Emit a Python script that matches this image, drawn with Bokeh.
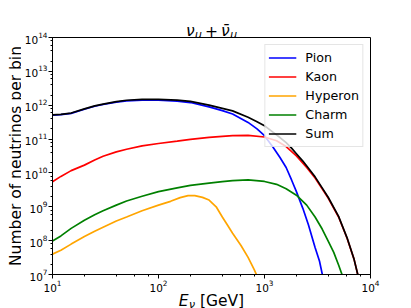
import numpy as np
from bokeh.plotting import figure
from bokeh.models import LogTicker, Range1d
from bokeh.core.properties import value
from bokeh.layouts import column, row
from bokeh.embed import file_html
from bokeh.resources import INLINE

# ---- data ----
pion_E = [10, 12, 15, 20, 25, 30, 40, 50, 70, 100, 150, 200, 300, 400, 500, 700, 850,
          1000, 1200, 1400, 1600, 1800, 2000, 2300, 2600, 3000, 3300, 3600]
pion_N = [5.1e11, 5.25e11, 5.75e11, 7.6e11, 9.3e11, 1.05e12, 1.23e12, 1.35e12, 1.41e12,
          1.41e12, 1.32e12, 1.20e12, 8.9e11, 6.9e11, 5.5e11, 3.1e11, 2.0e11,
          1.26e11, 5.8e10, 2.85e10, 1.45e10, 6.2e9, 2.8e9, 9.0e8, 2.9e8, 6.3e7, 2.5e7, 7.0e6]

kaon_E = [10, 12, 15, 20, 25, 30, 40, 50, 70, 100, 150, 200, 300, 400, 500, 700,
          1000, 1300, 1600, 2000, 2500, 3000, 3500, 4000, 5000, 6000, 7000, 8000]
kaon_N = [5.5e9, 7.9e9, 1.17e10, 1.7e10, 2.4e10, 3.1e10, 4.2e10, 5.0e10, 6.3e10, 7.4e10,
          8.7e10, 9.8e10, 1.12e11, 1.2e11, 1.26e11, 1.29e11,
          1.15e11, 8.9e10, 6.0e10, 3.2e10, 1.45e10, 7.1e9, 3.4e9, 1.78e9, 5.0e8, 1.2e8, 2.8e7, 5.0e6]

hyperon_E = [10, 12, 15, 20, 25, 30, 40, 50, 70, 100, 130, 160, 190, 220, 260, 300,
             350, 400, 450, 500, 600, 700, 800, 900]
hyperon_N = [4.0e7, 5.2e7, 7.9e7, 1.32e8, 1.9e8, 2.5e8, 3.8e8, 5.0e8, 7.6e8, 1.12e9,
             1.45e9, 1.86e9, 2.14e9, 2.14e9, 1.9e9, 1.58e9,
             1.0e9, 5.0e8, 2.8e8, 1.66e8, 7.2e7, 3.2e7, 1.4e7, 6.0e6]

charm_E = [10, 12, 15, 20, 25, 30, 40, 50, 70, 100, 150, 200, 300, 400, 500, 700,
           1000, 1300, 1600, 2000, 2500, 3000, 3500, 4000, 4500, 5000, 5500, 6000]
charm_N = [9.8e7, 1.38e8, 2.3e8, 4.0e8, 5.8e8, 7.6e8, 1.12e9, 1.48e9, 2.04e9, 2.8e9,
           3.6e9, 4.3e9, 5.0e9, 5.5e9, 5.9e9, 6.2e9,
           5.6e9, 4.6e9, 3.4e9, 2.2e9, 1.12e9, 5.0e8, 2.2e8, 9.5e7, 4.5e7, 1.9e7, 8.3e6, 3.2e6]

sum_E = [10, 12, 15, 20, 25, 30, 40, 50, 70, 100, 150, 200, 300, 400, 500, 700, 850,
         1000, 1200, 1400, 1600, 1800, 2000, 2300, 2600, 3000, 3500, 4000, 5000, 6000, 7000, 8000]
sum_N = [5.2e11, 5.33e11, 5.87e11, 7.8e11, 9.55e11, 1.08e12, 1.27e12, 1.40e12, 1.48e12,
         1.49e12, 1.41e12, 1.30e12, 1.01e12, 8.1e11, 6.8e11, 4.4e11, 3.25e11,
         2.47e11, 1.61e11, 1.11e11, 7.8e10, 5.4e10, 3.7e10, 2.24e10, 1.38e10, 7.66e9,
         3.62e9, 1.88e9, 5.2e8, 1.23e8, 2.8e7, 5.0e6]

series = [
    ("Pion", pion_E, pion_N, "blue"),
    ("Kaon", kaon_E, kaon_N, "red"),
    ("Hyperon", hyperon_E, hyperon_N, "orange"),
    ("Charm", charm_E, charm_N, "green"),
    ("Sum", sum_E, sum_N, "black"),
]

FONT = "DejaVu Sans"
TOTAL_W, TOTAL_H = 411, 308
YS = 21                      # strip holding the y label
CW = TOTAL_W - YS
BL, BR, BT, BB = 30, 41, 8, 20
FRAME_H = 237
TH, XH = 37, 22
HP = BT + FRAME_H + BB
OT, OB = 8, 8                # vertical overlaps between the stacked strips

xr = Range1d(10, 1e4)

p = figure(width=CW, height=HP, x_axis_type="log", y_axis_type="log",
           x_range=xr, y_range=(1e7, 1e14),
           output_backend="svg", toolbar_location=None,
           min_border_left=BL, min_border_right=BR, min_border_top=BT, min_border_bottom=BB)
p.xgrid.visible = False
p.ygrid.visible = False
p.outline_line_color = "black"
p.outline_line_alpha = 1.0
p.outline_line_width = 1
p.background_fill_color = "white"
p.border_fill_alpha = 0.0
p.margin = (-OT, 0, 0, 0)

p.xaxis.ticker = LogTicker(desired_num_ticks=4)
p.yaxis.ticker = LogTicker(desired_num_ticks=8)
for ax in (p.xaxis[0], p.yaxis[0]):
    ax.major_label_text_font = FONT
    ax.major_label_text_font_size = "10.5px"
    ax.major_label_text_color = "black"
    ax.major_label_standoff = 1
    ax.major_tick_out = 4
    ax.major_tick_in = 0
    ax.minor_tick_out = 2
    ax.minor_tick_in = 0
    ax.axis_line_color = "black"
    ax.major_tick_line_color = "black"
    ax.minor_tick_line_color = "black"

for name, xs, ys, color in series:
    p.line(np.array(xs, dtype=float), np.array(ys, dtype=float),
           line_color=color, line_width=1.7, legend_label=name)

lg = p.legend[0]
lg.location = "top_right"
lg.margin = 7
lg.padding = 3
lg.spacing = 0
lg.label_height = 19
lg.glyph_height = 19
lg.glyph_width = 28
lg.label_standoff = 9
lg.label_text_font = FONT
lg.label_text_font_size = "12.7px"
lg.label_text_color = "black"
lg.border_line_color = "#cccccc"
lg.border_line_width = 1
lg.background_fill_color = "white"
lg.background_fill_alpha = 0.8


def strip(w, h, log_x=False, **kw):
    f = figure(width=w, height=h,
               x_axis_type="log" if log_x else "linear",
               x_range=xr if log_x else (0, w), y_range=(0, h),
               x_axis_location=None, y_axis_location=None,
               output_backend="svg", toolbar_location=None, **kw)
    f.xgrid.visible = False
    f.ygrid.visible = False
    f.outline_line_color = None
    f.background_fill_alpha = 0.0
    f.border_fill_alpha = 0.0
    return f


def put(f, text, x, y, size, style="normal", dx=0.0, angle=0.0, align="left"):
    f.text(x=[x], y=[y], text=[text], x_offset=dx, angle=angle,
           text_font=value(FONT), text_font_size=value(f"{size:.2f}px"),
           text_font_style=style, text_color="black",
           text_baseline="alphabetic", text_align=align)


F = 15.5
S = 10.85
XC = 10 ** 2.5      # horizontal centre of the log frame

# title: nu_mu + nubar_mu
tf = strip(CW, TH, log_x=True, min_border_left=BL, min_border_right=BR,
           min_border_top=0, min_border_bottom=0)
tb = TH - 30.5
put(tf, "ν", XC, tb, F, "italic", dx=-25.6)
put(tf, "μ", XC, tb - 3.5, S, "italic", dx=-16.4)
put(tf, "+", XC, tb, F, "normal", dx=-6.5)
put(tf, "ν̄", XC, tb, F, "italic", dx=9.5)
put(tf, "μ", XC, tb - 3.5, S, "italic", dx=18.7)

# x label: E_nu [GeV]
xf = strip(CW, XH, log_x=True, min_border_left=BL, min_border_right=BR,
           min_border_top=0, min_border_bottom=0)
xf.margin = (-OB, 0, 0, 0)
xb = 7.3
put(xf, "E", XC, xb, F, "italic", dx=-32.7)
put(xf, "ν", XC, xb - 3.4, S, "italic", dx=-22.6)
put(xf, "[GeV]", XC, xb, F, "normal", dx=-11.6)

# y label strip
yf = strip(YS, TOTAL_H, min_border=0)
frame_mid_from_bottom = TOTAL_H - (TH + FRAME_H / 2.0)
put(yf, "Number of neutrinos per bin", 15.6, frame_mid_from_bottom, F, "normal",
    angle=np.pi / 2, align="center")

col = column(tf, p, xf, spacing=0)
layout = row(yf, col, spacing=0)
open("out.html", "w").write(file_html(layout, INLINE))
